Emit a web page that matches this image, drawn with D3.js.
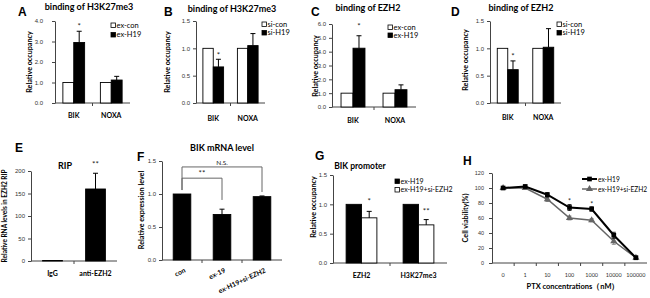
<!DOCTYPE html>
<html><head><meta charset="utf-8">
<script src="https://cdn.jsdelivr.net/npm/d3@7"></script>
<style>
html,body{margin:0;padding:0;background:#fff;}
svg{display:block;font-family:Lato,"Open Sans",sans-serif;}
</style></head>
<body>
<svg id="c" width="650" height="298"></svg>
<script>
// ---------------- DATA ----------------
// Panel A: binding of H3K27me3 (ex-con vs ex-H19)
const catsBN = ["BIK", "NOXA"];
const seriesA = ["ex-con", "ex-H19"];
const aExCon = [1.0, 1.0];
const aExH19 = [2.95, 1.12];
const aErrH19 = [0.55, 0.18];
const aTicks = [0, 1, 2, 3, 4];
// Panel B: binding of H3K27me3 (si-con vs si-H19)
const seriesB = ["si-con", "si-H19"];
const bSiCon = [1.0, 1.0];
const bSiH19 = [0.66, 1.05];
const bErrH19 = [0.14, 0.22];
const bTicks = [0, 0.5, 1.0, 1.5];
// Panel C: binding of EZH2 (ex-con vs ex-H19)
const cExCon = [1.0, 1.0];
const cExH19 = [4.25, 1.25];
const cErrH19 = [0.9, 0.35];
const cTicks = [0, 1, 2, 3, 4, 5, 6];
// Panel D: binding of EZH2 (si-con vs si-H19)
const dSiCon = [1.0, 1.0];
const dSiH19 = [0.61, 1.02];
const dErrH19 = [0.16, 0.34];
const dTicks = [0, 0.5, 1.0, 1.5];
// Panel E: RIP
const catsE = ["IgG", "anti-EZH2"];
const eValues = [1, 160];
const eErr = [0, 35];
const eTicks = [0, 50, 100, 150, 200];
// Panel F: BIK mRNA level
const catsF = ["con", "ex-19", "ex-H19+si-EZH2"];
const fValues = [1.0, 0.69, 0.96];
const fErr = [0, 0.08, 0.01];
const fTicks = [0, 0.5, 1.0, 1.5];
// Panel G: BIK promoter
const catsG = ["EZH2", "H3K27me3"];
const seriesG = ["ex-H19", "ex-H19+si-EZH2"];
const gExH19 = [1.0, 1.0];
const gSiEZH2 = [0.77, 0.65];
const gErrSi = [0.11, 0.09];
const gTicks = [0, 0.5, 1.0, 1.5];
// Panel H: cell viability vs PTX
const catsH = ["0", "1", "10", "100", "1000", "10000", "100000"];
const seriesH = ["ex-H19", "ex-H19+si-EZH2"];
const hExH19 = [100, 102, 91, 74, 72, 37, 7];
const hErrExH19 = [1.5, 2, 3, 4, 3, 4, 2];
const hSiEZH2 = [100, 100, 85, 60, 57, 29, 7];
const hErrSiEZH2 = [1.5, 1.5, 3, 2.5, 2, 4, 2];
const hTicks = [0, 20, 40, 60, 80, 100, 120];

// ---------------- DRAW ----------------
const svg = d3.select("#c");
const AX = "#444";
const LETTER_FONT = "'Liberation Sans',Arial,sans-serif";

function letter(t, x, y) {
  svg.append("text").attr("x", x).attr("y", y).text(t)
    .attr("font-family", LETTER_FONT).attr("font-weight", "bold").attr("font-size", 12);
}
function title(t, x, y, fs) {
  svg.append("text").attr("x", x).attr("y", y).attr("text-anchor", "middle")
    .attr("font-weight", "bold").attr("font-size", fs || 9).text(t);
}
function yLabel(t, x, y, fs) {
  svg.append("text").attr("transform", `translate(${x},${y}) rotate(-90)`)
    .attr("text-anchor", "middle").attr("dominant-baseline", "middle")
    .attr("font-weight", "bold").attr("font-size", fs || 7.2).text(t);
}
function star(t, x, y, fs) {
  svg.append("text").attr("x", x).attr("y", y).attr("text-anchor", "middle")
    .attr("font-size", fs || 8).attr("fill", "#222").text(t);
}

// generic axis frame
function frame(cfg) {
  const g = svg.append("g");
  const y = d3.scaleLinear().domain(cfg.domain).range([cfg.y0, cfg.y1]);
  const x = d3.scaleBand().domain(cfg.cats).range([cfg.x0, cfg.x1]).padding(0);
  const ya = d3.axisLeft(y).tickValues(cfg.ticks).tickSize(3).tickSizeOuter(0)
    .tickPadding(cfg.tickPad || 3).tickFormat(cfg.fmt);
  const yg = g.append("g").attr("transform", `translate(${cfg.x0},0)`).call(ya);
  yg.selectAll("text").attr("font-size", cfg.tickFs || 6).attr("fill", "#333");
  yg.selectAll("line,path").attr("stroke", AX);
  g.append("line").attr("x1", cfg.x0).attr("x2", cfg.x1).attr("y1", cfg.y0).attr("y2", cfg.y0).attr("stroke", AX);
  const bounds = d3.range(1, cfg.cats.length).map(i => cfg.x0 + i * x.step());
  g.selectAll(".bt").data(bounds).join("line")
    .attr("x1", d => d).attr("x2", d => d).attr("y1", cfg.y0).attr("y2", cfg.y0 + 3).attr("stroke", AX);
  return { g, x, y };
}

// grouped bars with up-only error bars
function groupedBars(fr, seriesVals, seriesErr, fills, frac) {
  const bw = fr.x.bandwidth();
  const xs = d3.scaleBand().domain(d3.range(seriesVals.length))
    .range([bw * (1 - frac) / 2, bw * (1 + frac) / 2]);
  seriesVals.forEach((vals, si) => {
    const cats = fr.x.domain();
    fr.g.selectAll(null).data(vals).join("rect")
      .attr("x", (d, i) => fr.x(cats[i]) + xs(si))
      .attr("y", d => fr.y(d))
      .attr("width", xs.bandwidth())
      .attr("height", d => fr.y(0) - fr.y(d))
      .attr("fill", fills[si]).attr("stroke", "#000").attr("stroke-width", 0.9);
    const errs = seriesErr[si];
    if (errs) {
      vals.forEach((v, i) => {
        if (!errs[i]) return;
        const cx = fr.x(cats[i]) + xs(si) + xs.bandwidth() / 2;
        fr.g.append("line").attr("x1", cx).attr("x2", cx)
          .attr("y1", fr.y(v)).attr("y2", fr.y(v + errs[i])).attr("stroke", "#000");
        fr.g.append("line").attr("x1", cx - 2.5).attr("x2", cx + 2.5)
          .attr("y1", fr.y(v + errs[i])).attr("y2", fr.y(v + errs[i])).attr("stroke", "#000");
      });
    }
  });
  return xs;
}
function catLabels(fr, y, fs) {
  fr.g.selectAll(null).data(fr.x.domain()).join("text")
    .attr("x", d => fr.x(d) + fr.x.bandwidth() / 2).attr("y", y)
    .attr("text-anchor", "middle").attr("font-weight", "bold").attr("font-size", fs || 7).text(d => d);
}
function legendBoxes(names, fills, x, y, dy, fs) {
  names.forEach((n, i) => {
    svg.append("rect").attr("x", x).attr("y", y + i * dy - 4.5).attr("width", 4.5).attr("height", 4.5)
      .attr("fill", fills[i]).attr("stroke", "#000").attr("stroke-width", 0.8);
    svg.append("text").attr("x", x + 5.5).attr("y", y + i * dy).attr("font-size", fs || 7.5).text(n);
  });
}
const f1 = d3.format(".1f");

// ---- Panel A ----
letter("A", 18, 16);
title("binding of H3K27me3", 89, 10);
yLabel("Relative occupancy", 30, 62);
const frA = frame({ cats: catsBN, domain: [0, 4], ticks: aTicks, fmt: f1, x0: 55, x1: 130, y0: 103, y1: 21, tickPad: 9 });
const xsA = groupedBars(frA, [aExCon, aExH19], [null, aErrH19], ["#fff", "#000"], 0.58);
catLabels(frA, 118);
legendBoxes(seriesA, ["#fff", "#000"], 111, 27.5, 9.5);
star("*", frA.x("BIK") + xsA(1) + xsA.bandwidth() / 2, frA.y(3.8) + 4);

// ---- Panel B ----
letter("B", 164, 16);
title("binding of H3K27me3", 232, 12);
yLabel("Relative occupancy", 168, 62);
const frB = frame({ cats: catsBN, domain: [0, 1.5], ticks: bTicks, fmt: f1, x0: 196, x1: 265, y0: 103, y1: 21, tickPad: 3 });
const xsB = groupedBars(frB, [bSiCon, bSiH19], [null, bErrH19], ["#fff", "#000"], 0.6);
catLabels(frB, 121);
legendBoxes(seriesB, ["#fff", "#000"], 262, 26.5, 8.5);
star("*", frB.x("BIK") + xsB(1) + xsB.bandwidth() / 2, frB.y(0.9) + 4);

// ---- Panel C ----
letter("C", 311, 16);
title("binding of EZH2", 368, 11);
yLabel("Relative occupancy", 316, 66);
const frC = frame({ cats: catsBN, domain: [0, 6], ticks: cTicks, fmt: f1, x0: 332, x1: 416, y0: 107, y1: 24, tickPad: 3 });
const xsC = groupedBars(frC, [cExCon, cExH19], [null, cErrH19], ["#fff", "#000"], 0.57);
catLabels(frC, 123);
legendBoxes(seriesA, ["#fff", "#000"], 388, 29.5, 8);
star("*", frC.x("BIK") + xsC(1) + xsC.bandwidth() / 2, frC.y(5.93) + 4);

// ---- Panel D ----
letter("D", 451, 16);
title("binding of EZH2", 521, 11);
yLabel("Relative occupancy", 466, 60);
const frD = frame({ cats: catsBN, domain: [0, 1.5], ticks: dTicks, fmt: f1, x0: 490, x1: 561, y0: 103, y1: 21, tickPad: 3 });
const xsD = groupedBars(frD, [dSiCon, dSiH19], [null, dErrH19], ["#fff", "#000"], 0.59);
catLabels(frD, 120);
legendBoxes(seriesB, ["#fff", "#000"], 557, 26.5, 8.5);
star("*", frD.x("BIK") + xsD(1) + xsD.bandwidth() / 2, frD.y(0.88) + 4);

// ---- Panel E ----
letter("E", 15, 152);
title("RIP", 65, 169);
yLabel("Relative RNA levels in EZH2 RIP", 5, 216, 6.5);
const frE = frame({ cats: catsE, domain: [0, 200], ticks: eTicks, fmt: d3.format("d"), x0: 31, x1: 117, y0: 261, y1: 171, tickPad: 3 });
groupedBars(frE, [eValues], [eErr], ["#000"], 0.46);
catLabels(frE, 276);
star("**", frE.x("anti-EZH2") + frE.x.bandwidth() / 2, frE.y(218) + 4);

// ---- Panel F ----
letter("F", 137, 161);
title("BIK mRNA level", 222, 151);
yLabel("Relative expression level", 142, 210);
const frF = frame({ cats: catsF, domain: [0, 1.5], ticks: fTicks, fmt: f1, x0: 162, x1: 282, y0: 260, y1: 161, tickPad: 3 });
groupedBars(frF, [fValues], [fErr], ["#000"], 0.44);
frF.g.selectAll(null).data(catsF).join("text")
  .attr("transform", d => `translate(${frF.x(d) + frF.x.bandwidth() / 2 + 4},${272}) rotate(-25)`)
  .attr("text-anchor", "end").attr("font-weight", "bold").attr("font-size", 6.8).text(d => d);
const cF = d => frF.x(d) + frF.x.bandwidth() / 2;
function bracket(a, b, top, la, lb, label) {
  const p = d3.path();
  p.moveTo(cF(a), frF.y(la)); p.lineTo(cF(a), frF.y(top)); p.lineTo(cF(b), frF.y(top)); p.lineTo(cF(b), frF.y(lb));
  frF.g.append("path").attr("d", p.toString()).attr("fill", "none").attr("stroke", "#666").attr("stroke-width", 1);
  star(label, (cF(a) + cF(b)) / 2, frF.y(top) - 2, label === "N.S." ? 6.5 : 8);
}
bracket("con", "ex-H19+si-EZH2", 1.41, 1.06, 1.03, "N.S.");
bracket("con", "ex-19", 1.24, 1.06, 0.91, "**");

// ---- Panel G ----
letter("G", 315, 160);
title("BIK promoter", 360, 169, 8.5);
yLabel("Relative occupancy", 314, 207);
const frG = frame({ cats: catsG, domain: [0, 1.5], ticks: gTicks, fmt: f1, x0: 333, x1: 447, y0: 263, y1: 175, tickPad: 3 });
const xsG = groupedBars(frG, [gExH19, gSiEZH2], [null, gErrSi], ["#000", "#fff"], 0.54);
catLabels(frG, 278);
legendBoxes(seriesG, ["#000", "#fff"], 395, 183.5, 8.5, 7);
star("*", frG.x("EZH2") + xsG(1) + xsG.bandwidth() / 2, frG.y(1.07) + 4);
star("**", frG.x("H3K27me3") + xsG(1) + xsG.bandwidth() / 2, frG.y(0.9) + 4);

// ---- Panel H ----
letter("H", 463, 165);
yLabel("Cell viability(%)", 466, 218);
const frH = frame({ cats: catsH, domain: [0, 120], ticks: hTicks, fmt: d3.format("d"), x0: 492, x1: 647, y0: 263, y1: 173, tickPad: 5, tickFs: 5.5 });
frH.g.selectAll(null).data(catsH).join("text")
  .attr("x", d => frH.x(d) + frH.x.bandwidth() / 2).attr("y", 277)
  .attr("text-anchor", "middle").attr("font-size", 5.5).attr("fill", "#333").text(d => d);
svg.append("text").attr("x", 573).attr("y", 289).attr("text-anchor", "middle")
  .attr("font-weight", "bold").attr("font-size", 7.5).text("PTX concentrations（nM）");
const hx = d => frH.x(d) + frH.x.bandwidth() / 2;
const hSeries = [
  { vals: hExH19, err: hErrExH19, color: "#000", w: 2, sym: d3.symbolSquare, size: 22 },
  { vals: hSiEZH2, err: hErrSiEZH2, color: "#666", w: 1.5, sym: d3.symbolTriangle, size: 22 }
];
[hSeries[1], hSeries[0]].forEach(s => {
  const line = d3.line().x((d, i) => hx(catsH[i])).y(d => frH.y(d));
  frH.g.append("path").attr("d", line(s.vals)).attr("fill", "none").attr("stroke", s.color).attr("stroke-width", s.w);
  s.vals.forEach((v, i) => {
    const cx = hx(catsH[i]);
    const lo = v - s.err[i], hi = v + s.err[i];
    frH.g.append("line").attr("x1", cx).attr("x2", cx).attr("y1", frH.y(lo)).attr("y2", frH.y(hi)).attr("stroke", s.color).attr("stroke-width", 0.8);
    [lo, hi].forEach(e => frH.g.append("line").attr("x1", cx - 2).attr("x2", cx + 2).attr("y1", frH.y(e)).attr("y2", frH.y(e)).attr("stroke", s.color).attr("stroke-width", 0.8));
  });
  frH.g.selectAll(null).data(s.vals).join("path")
    .attr("transform", (d, i) => `translate(${hx(catsH[i])},${frH.y(d)})`)
    .attr("d", d3.symbol(s.sym, s.size)).attr("fill", s.color);
});
const hStars = [["100", 84], ["1000", 80]];
hStars.forEach(([c, v]) => star("*", hx(c), frH.y(v) + 4, 7));
hSeries.forEach((s, i) => {
  const ly = 179 + i * 10;
  svg.append("line").attr("x1", 582).attr("x2", 597).attr("y1", ly).attr("y2", ly).attr("stroke", s.color).attr("stroke-width", s.w);
  svg.append("path").attr("transform", `translate(589.5,${ly})`).attr("d", d3.symbol(s.sym, s.size)()).attr("fill", s.color);
  svg.append("text").attr("x", 598).attr("y", ly + 2.5).attr("font-size", 6.6).text(seriesH[i]);
});
</script>
</body></html>
